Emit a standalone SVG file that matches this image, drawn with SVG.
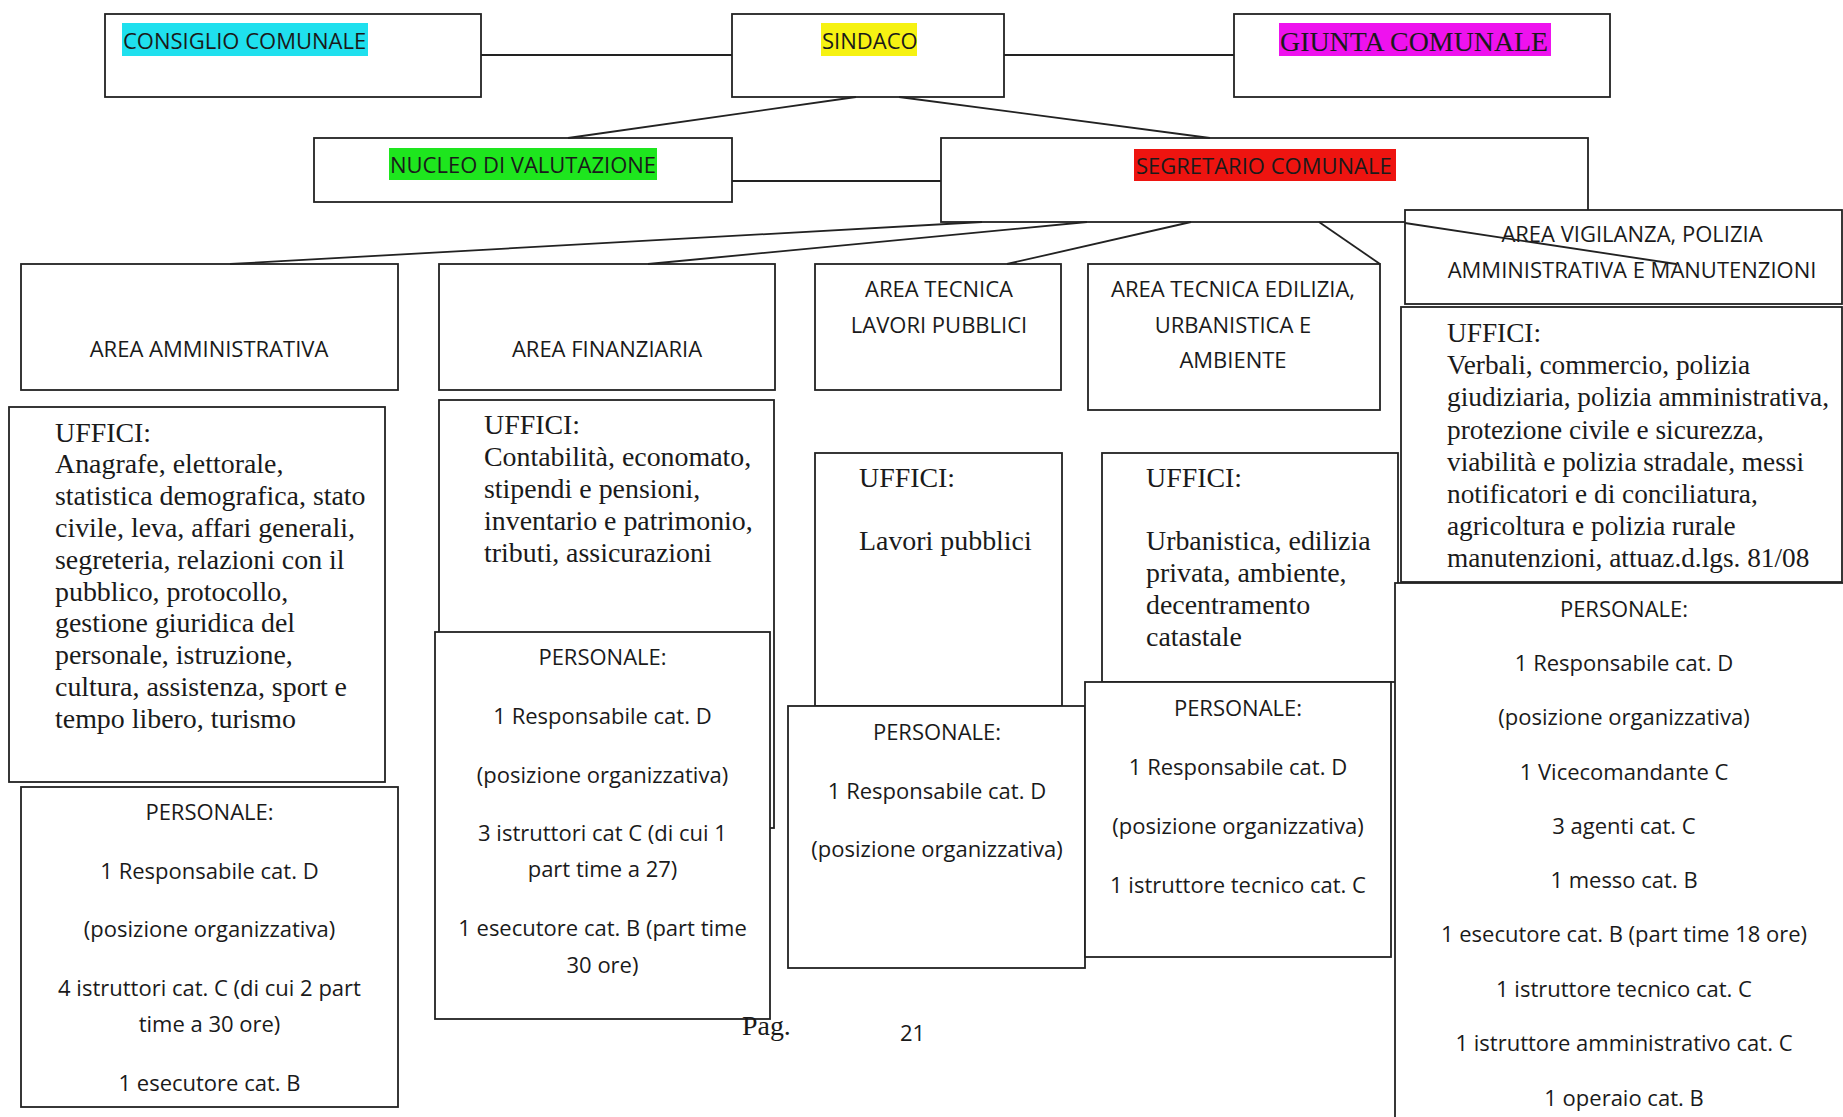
<svg xmlns="http://www.w3.org/2000/svg" width="1843" height="1117" viewBox="0 0 1843 1117">
<style>
.bg{fill:#fff}
.box{fill:#fff;stroke:#222;stroke-width:1.8}
.ln{fill:none;stroke:#222;stroke-width:1.8}
.sans{font-family:"Open Sans","Liberation Sans",sans-serif;font-size:22px;fill:#1a1a1a}
.serif{font-family:"Liberation Serif","Times New Roman",serif;font-size:27.9px;fill:#1a1a1a}
.sv{font-size:27.3px}
.c{text-anchor:middle}
</style>
<rect class="bg" x="0" y="0" width="1843" height="1117"/>

<g id="consiglio">
<rect class="box" x="105" y="14" width="376" height="83"/>
<rect x="122" y="23" width="246" height="33" fill="#1fe0ee"/>
<text class="sans" x="123" y="49">CONSIGLIO COMUNALE</text>
</g>
<g id="sindaco">
<rect class="box" x="732" y="14" width="272" height="83"/>
<rect x="821" y="23" width="96" height="33" fill="#f6f212"/>
<text class="sans" x="822" y="49">SINDACO</text>
</g>
<g id="giunta">
<rect class="box" x="1234" y="14" width="376" height="83"/>
<rect x="1279" y="23" width="272" height="33" fill="#ee12ee"/>
<text class="serif" x="1280" y="51" font-size="27.6">GIUNTA COMUNALE</text>
</g>
<g id="nucleo">
<rect class="box" x="314" y="138" width="418" height="64"/>
<rect x="389" y="148" width="268" height="32" fill="#1ee61e"/>
<text class="sans" x="390" y="173">NUCLEO DI VALUTAZIONE</text>
</g>
<g id="segretario">
<rect class="box" x="941" y="138" width="647" height="84"/>
<rect x="1134" y="149" width="262" height="32" fill="#ee1410"/>
<text class="sans" x="1136" y="174">SEGRETARIO COMUNALE</text>
</g>

<g id="area-amministrativa">
<rect class="box" x="21" y="264" width="377" height="126"/>
<text class="sans c" x="209" y="357">AREA AMMINISTRATIVA</text>
</g>
<g id="area-finanziaria">
<rect class="box" x="439" y="264" width="336" height="126"/>
<text class="sans c" x="607" y="357">AREA FINANZIARIA</text>
</g>
<g id="area-lavori">
<rect class="box" x="815" y="264" width="246" height="126"/>
<text class="sans c" x="939" y="297">AREA TECNICA</text>
<text class="sans c" x="939" y="333">LAVORI PUBBLICI</text>
</g>
<g id="area-edilizia">
<rect class="box" x="1088" y="264" width="292" height="146"/>
<text class="sans c" x="1233" y="297">AREA TECNICA EDILIZIA,</text>
<text class="sans c" x="1233" y="333">URBANISTICA E</text>
<text class="sans c" x="1233" y="368">AMBIENTE</text>
</g>
<g id="area-vigilanza">
<rect class="box" x="1405" y="210" width="437" height="94"/>
<text class="sans c" x="1632" y="242">AREA VIGILANZA, POLIZIA</text>
<text class="sans c" x="1632" y="278">AMMINISTRATIVA E MANUTENZIONI</text>
</g>

<g id="uffici-amministrativa">
<rect class="box" x="9" y="407" width="376" height="375"/>
<text class="serif" x="55" y="441.5">UFFICI:</text>
<text class="serif" x="55" y="473.3">Anagrafe, elettorale,</text>
<text class="serif" x="55" y="505.1">statistica demografica, stato</text>
<text class="serif" x="55" y="536.9">civile, leva, affari generali,</text>
<text class="serif" x="55" y="568.7">segreteria, relazioni con il</text>
<text class="serif" x="55" y="600.5">pubblico, protocollo,</text>
<text class="serif" x="55" y="632.3">gestione giuridica del</text>
<text class="serif" x="55" y="664.1">personale, istruzione,</text>
<text class="serif" x="55" y="695.9">cultura, assistenza, sport e</text>
<text class="serif" x="55" y="727.7">tempo libero, turismo</text>
</g>
<g id="personale-amministrativa">
<rect class="box" x="21" y="787" width="377" height="320"/>
<text class="sans c" x="209.5" y="820">PERSONALE:</text>
<text class="sans c" x="209.5" y="879">1 Responsabile cat. D</text>
<text class="sans c" x="209.5" y="937">(posizione organizzativa)</text>
<text class="sans c" x="209.5" y="996">4 istruttori cat. C (di cui 2 part</text>
<text class="sans c" x="209.5" y="1032">time a 30 ore)</text>
<text class="sans c" x="209.5" y="1091">1 esecutore cat. B</text>
</g>

<g id="uffici-finanziaria">
<rect class="box" x="439" y="400" width="335" height="428"/>
<text class="serif" x="484" y="434">UFFICI:</text>
<text class="serif" x="484" y="466">Contabilità, economato,</text>
<text class="serif" x="484" y="498">stipendi e pensioni,</text>
<text class="serif" x="484" y="530">inventario e patrimonio,</text>
<text class="serif" x="484" y="562">tributi, assicurazioni</text>
</g>
<g id="personale-finanziaria">
<rect class="box" x="435" y="632" width="335" height="387"/>
<text class="sans c" x="602.5" y="665">PERSONALE:</text>
<text class="sans c" x="602.5" y="724">1 Responsabile cat. D</text>
<text class="sans c" x="602.5" y="783">(posizione organizzativa)</text>
<text class="sans c" x="602.5" y="841">3 istruttori cat C (di cui 1</text>
<text class="sans c" x="602.5" y="877">part time a 27)</text>
<text class="sans c" x="602.5" y="936">1 esecutore cat. B (part time</text>
<text class="sans c" x="602.5" y="972.5">30 ore)</text>
</g>

<g id="uffici-lavori">
<rect class="box" x="815" y="453" width="247" height="253"/>
<text class="serif" x="859" y="487">UFFICI:</text>
<text class="serif" x="859" y="550">Lavori pubblici</text>
</g>
<g id="personale-lavori">
<rect class="box" x="788" y="706" width="297" height="262"/>
<text class="sans c" x="937" y="739.5">PERSONALE:</text>
<text class="sans c" x="937" y="799">1 Responsabile cat. D</text>
<text class="sans c" x="937" y="857">(posizione organizzativa)</text>
</g>

<g id="uffici-edilizia">
<rect class="box" x="1102" y="453" width="296" height="229"/>
<text class="serif" x="1146" y="487">UFFICI:</text>
<text class="serif" x="1146" y="550">Urbanistica, edilizia</text>
<text class="serif" x="1146" y="582">privata, ambiente,</text>
<text class="serif" x="1146" y="614">decentramento</text>
<text class="serif" x="1146" y="646">catastale</text>
</g>
<g id="personale-edilizia">
<rect class="box" x="1085" y="682" width="306" height="275"/>
<text class="sans c" x="1238" y="715.5">PERSONALE:</text>
<text class="sans c" x="1238" y="774.5">1 Responsabile cat. D</text>
<text class="sans c" x="1238" y="834">(posizione organizzativa)</text>
<text class="sans c" x="1238" y="893">1 istruttore tecnico cat. C</text>
</g>

<g id="uffici-vigilanza">
<rect class="box" x="1401" y="307" width="441" height="275"/>
<text class="serif sv" x="1447" y="342">UFFICI:</text>
<text class="serif sv" x="1447" y="374.2">Verbali, commercio, polizia</text>
<text class="serif sv" x="1447" y="406.4">giudiziaria, polizia amministrativa,</text>
<text class="serif sv" x="1447" y="438.6">protezione civile e sicurezza,</text>
<text class="serif sv" x="1447" y="470.8">viabilità e polizia stradale, messi</text>
<text class="serif sv" x="1447" y="503">notificatori e di conciliatura,</text>
<text class="serif sv" x="1447" y="535.2">agricoltura e polizia rurale</text>
<text class="serif sv" x="1447" y="567.4">manutenzioni, attuaz.d.lgs. 81/08</text>
</g>
<g id="personale-vigilanza">
<rect class="box" x="1395" y="583" width="470" height="560"/>
<text class="sans c" x="1624" y="617">PERSONALE:</text>
<text class="sans c" x="1624" y="671">1 Responsabile cat. D</text>
<text class="sans c" x="1624" y="725">(posizione organizzativa)</text>
<text class="sans c" x="1624" y="780">1 Vicecomandante C</text>
<text class="sans c" x="1624" y="834">3 agenti cat. C</text>
<text class="sans c" x="1624" y="888">1 messo cat. B</text>
<text class="sans c" x="1624" y="942">1 esecutore cat. B (part time 18 ore)</text>
<text class="sans c" x="1624" y="996.5">1 istruttore tecnico cat. C</text>
<text class="sans c" x="1624" y="1050.5">1 istruttore amministrativo cat. C</text>
<text class="sans c" x="1624" y="1105.5">1 operaio cat. B</text>
</g>

<g id="connectors">
<line class="ln" x1="481" y1="55" x2="732" y2="55"/>
<line class="ln" x1="1004" y1="55" x2="1234" y2="55"/>
<line class="ln" x1="856" y1="97" x2="568" y2="138"/>
<line class="ln" x1="899" y1="97" x2="1210" y2="138"/>
<line class="ln" x1="732" y1="181" x2="941" y2="181"/>
<line class="ln" x1="982" y1="222" x2="230" y2="264"/>
<line class="ln" x1="1087" y1="222" x2="648" y2="264"/>
<line class="ln" x1="1191" y1="222" x2="1007" y2="264"/>
<line class="ln" x1="1319" y1="222" x2="1380" y2="264"/>
<line class="ln" x1="1405" y1="223" x2="1676" y2="264"/>
</g>

<g id="footer">
<text class="serif" x="742" y="1035" font-size="17">Pag.</text>
<text class="sans" x="900" y="1041" font-size="19" fill="#111">21</text>
</g>
</svg>
